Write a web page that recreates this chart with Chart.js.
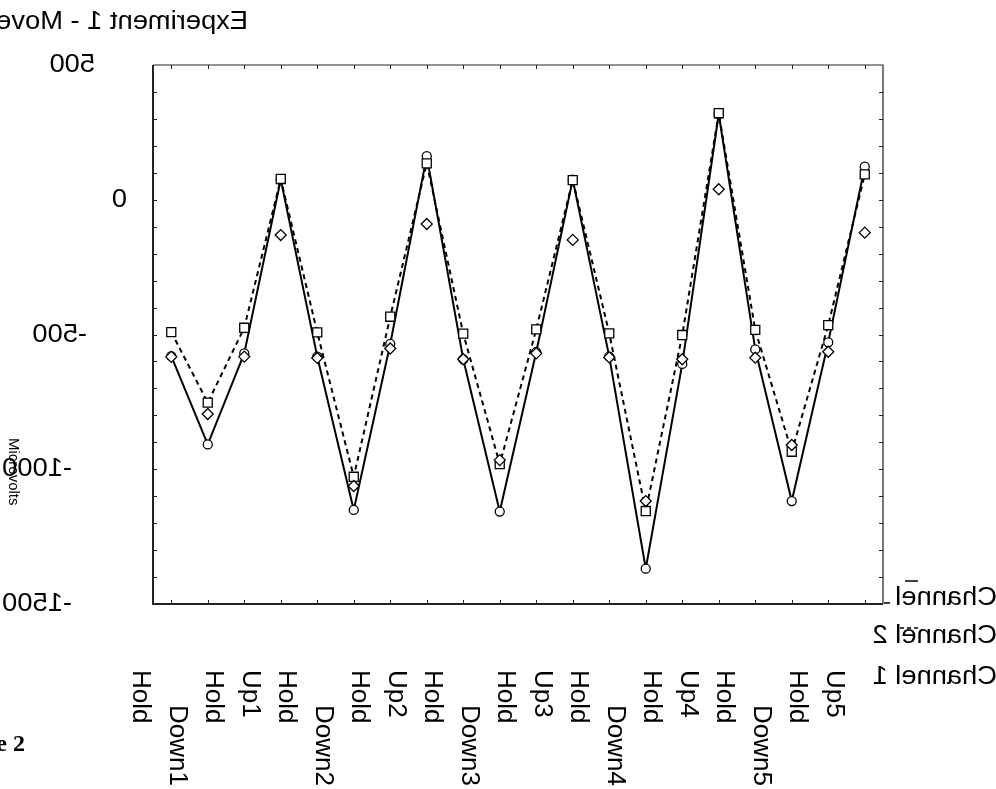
<!DOCTYPE html>
<html>
<head>
<meta charset="utf-8">
<script src="https://cdn.jsdelivr.net/npm/chart.js@4.4.1/dist/chart.umd.min.js"></script>
<style>
  html, body { margin: 0; padding: 0; background: #fff; }
  #wrap { width: 996px; height: 789px; }
</style>
</head>
<body>
<div id="wrap"><canvas id="chart" width="996" height="789"></canvas></div>
<script>
const categories = ["Hold", "Down1", "Hold", "Up1", "Hold", "Down2", "Hold", "Up2", "Hold", "Down3",
  "Hold", "Up3", "Hold", "Down4", "Hold", "Up4", "Hold", "Down5", "Hold", "Up5"];

const channel1 = [-580, -908, -570, 75, -582, -1151, -535, 162, -592, -1157,
  -565, 75, -582, -1369, -609, 318, -555, -1118, -529, 123];
const channel2 = [-491, -753, -475, 77, -492, -1028, -434, 135, -497, -981,
  -481, 73, -496, -1155, -502, 321, -483, -935, -465, 94];
const channel3 = [-583, -795, -582, -131, -587, -1062, -552, -90, -592, -966,
  -570, -149, -585, -1118, -592, 39, -586, -910, -564, -122];

const seriesNames = ["Channel 1", "Channel 2", "Channel 3"];
const yTickValues = [500, 0, -500, -1000, -1500];
const chartTitle = "Experiment 1 - Movement";
const yAxisTitle = "Microvolts";
const figureLabel = "Figure 2";

// layout of the text, in pixels
const yLabelRight = [95, 127, 87, 72, 72];
const legendRows = [677, 636, 598];
const xLabelShift = -31;

const textFont = "26px 'Liberation Sans', Arial, sans-serif";

// Draws text flipped left-to-right; x is where the text starts (its right edge on screen)
const mirrorText = (ctx, text, x, y) => {
  ctx.save();
  ctx.translate(x, y);
  ctx.scale(-1.05, 1);
  ctx.fillText(text, 0, 0);
  ctx.restore();
};

// Text turned a quarter clockwise, reading downwards from (x, y)
const downText = (ctx, text, x, y) => {
  ctx.save();
  ctx.translate(x, y);
  ctx.rotate(Math.PI / 2);
  ctx.fillText(text, 0, 0);
  ctx.restore();
};

const mirroredTextPlugin = {
  id: "mirroredText",
  beforeDraw(chart) {
    const { ctx, chartArea, scales } = chart;
    ctx.save();
    ctx.fillStyle = "#fff";
    ctx.fillRect(0, 0, chart.width, chart.height);

    ctx.fillStyle = "#000";
    ctx.font = textFont;
    ctx.textAlign = "left";
    ctx.textBaseline = "middle";

    mirrorText(ctx, chartTitle, 248, 22);

    yTickValues.forEach((value, i) => {
      mirrorText(ctx, String(value), yLabelRight[i], scales.y.getPixelForValue(value));
    });

    categories.forEach((label, i) => {
      const x = scales.x.getPixelForValue(i) + xLabelShift;
      const top = label.startsWith("Down") ? 705 : 670;
      downText(ctx, label, x, top);
    });

    // legend, last series on top; the top row is cut at its left
    seriesNames.forEach((name, i) => {
      ctx.save();
      if (i === seriesNames.length - 1) {
        ctx.beginPath();
        ctx.rect(889, 0, 200, chart.height);
        ctx.clip();
      }
      mirrorText(ctx, name, 997, legendRows[i]);
      ctx.restore();
    });
    ctx.strokeStyle = "#000";
    ctx.lineWidth = 1.5;
    ctx.setLineDash([4, 3]);
    ctx.beginPath();
    ctx.moveTo(900, 628);
    ctx.lineTo(918, 628);
    ctx.stroke();
    ctx.setLineDash([]);
    ctx.beginPath();
    ctx.moveTo(905, 581);
    ctx.lineTo(918, 581);
    ctx.moveTo(884, 603);
    ctx.lineTo(890, 603);
    ctx.stroke();

    ctx.font = "15px 'Liberation Sans', Arial, sans-serif";
    downText(ctx, yAxisTitle, 13, 438);

    ctx.font = "bold 24px 'Liberation Serif', 'Times New Roman', serif";
    ctx.textAlign = "right";
    ctx.fillText(figureLabel, 25, 745);

    // plot background sits over anything that spills into it
    ctx.fillStyle = "#fff";
    ctx.fillRect(chartArea.left, chartArea.top,
      chartArea.right - chartArea.left, chartArea.bottom - chartArea.top);
    ctx.restore();
  },
  afterDraw(chart) {
    const { ctx, chartArea, scales } = chart;
    const { left, right, top, bottom } = chartArea;
    ctx.save();
    ctx.strokeStyle = "#222";

    // frame
    ctx.lineWidth = 1.2;
    ctx.beginPath();
    ctx.moveTo(left, top);
    ctx.lineTo(right, top);
    ctx.lineTo(right, bottom);
    ctx.stroke();
    ctx.lineWidth = 2;
    ctx.beginPath();
    ctx.moveTo(left, top);
    ctx.lineTo(left, bottom);
    ctx.lineTo(right, bottom);
    ctx.stroke();

    // inner ticks
    ctx.lineWidth = 1;
    ctx.beginPath();
    for (let v = -1400; v < 500; v += 100) {
      const y = Math.round(scales.y.getPixelForValue(v)) + 0.5;
      ctx.moveTo(left, y);
      ctx.lineTo(left + 4, y);
      ctx.moveTo(right, y);
      ctx.lineTo(right - 4, y);
    }
    categories.forEach((_, i) => {
      const x = Math.round(scales.x.getPixelForValue(i)) + 0.5;
      ctx.moveTo(x, top);
      ctx.lineTo(x, top + 4);
      ctx.moveTo(x, bottom);
      ctx.lineTo(x, bottom - 4);
    });
    ctx.stroke();
    ctx.restore();
  },
};

const pointDefaults = {
  pointBackgroundColor: "#fff",
  pointBorderColor: "#000",
  pointBorderWidth: 1.3,
  borderColor: "#000",
};

new Chart(document.getElementById("chart"), {
  type: "line",
  data: {
    labels: categories,
    datasets: [
      {
        ...pointDefaults,
        label: seriesNames[0],
        data: channel1,
        borderWidth: 2,
        pointStyle: "circle",
        pointRadius: 4.5,
        order: 2,
      },
      {
        ...pointDefaults,
        label: seriesNames[1],
        data: channel2,
        borderWidth: 2,
        borderDash: [5, 4],
        pointStyle: "rect",
        pointRadius: 6.4,
        order: 1,
      },
      {
        ...pointDefaults,
        label: seriesNames[2],
        data: channel3,
        showLine: false,
        pointStyle: "rectRot",
        pointRadius: 5.5,
        order: 0,
      },
    ],
  },
  options: {
    responsive: false,
    animation: false,
    layout: { padding: { left: 153, right: 113, top: 65, bottom: 185 } },
    plugins: {
      legend: { display: false },
      tooltip: { enabled: false },
    },
    scales: {
      x: { type: "category", offset: true, display: false },
      y: { min: -1500, max: 500, display: false },
    },
  },
  plugins: [mirroredTextPlugin],
});
</script>
</body>
</html>
